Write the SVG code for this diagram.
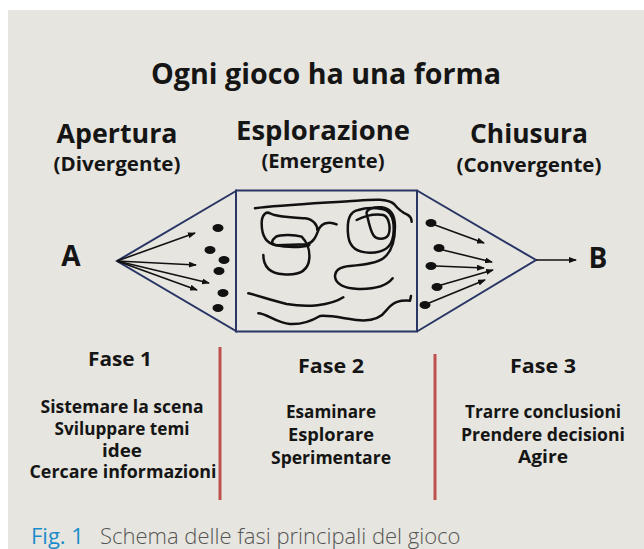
<svg xmlns="http://www.w3.org/2000/svg" width="644" height="549" viewBox="0 0 644 549">
  <defs>
    <marker id="ah" markerWidth="8" markerHeight="6" refX="7" refY="3" orient="auto" markerUnits="userSpaceOnUse">
      <path d="M0,0 L8,3 L0,6 Z" fill="#111"/>
    </marker>
    <style>
      .t { font-family: "Open Sans", "DejaVu Sans", "Liberation Sans", sans-serif; font-weight: 700; fill: #151515; }
      .h { font-size: 27px; }
      .s { font-size: 19px; }
      .p { font-size: 20px; }
      .l { font-size: 17px; }
      .shape { fill: none; stroke: #283565; stroke-width: 2; stroke-linejoin: miter; }
      .arr { stroke: #111; stroke-width: 1.6; fill: none; marker-end: url(#ah); }
      .dot { fill: #111; }
      .scr { fill: none; stroke: #111; stroke-width: 7.5; stroke-linecap: round; stroke-linejoin: round; }
      .red { stroke: #c0504d; stroke-width: 3; }
      .cap { font-family: "Open Sans", "Liberation Sans", sans-serif; font-size: 22px; font-weight: 300; }
    </style>
  </defs>
  <rect x="8" y="10" width="636" height="539" fill="#e6e5df"/>

  <g id="title">
    <text class="t" x="326" y="84" font-size="28" font-weight="600" text-anchor="middle" textLength="350" lengthAdjust="spacingAndGlyphs">Ogni gioco ha una forma</text>
  </g>

  <g id="apertura">
    <text class="t h" x="117" y="143" text-anchor="middle" textLength="121" lengthAdjust="spacingAndGlyphs">Apertura</text>
    <text class="t s" x="117" y="171" text-anchor="middle" textLength="127" lengthAdjust="spacingAndGlyphs">(Divergente)</text>
  </g>
  <g id="esplorazione">
    <text class="t h" x="323" y="140" text-anchor="middle" textLength="174" lengthAdjust="spacingAndGlyphs">Esplorazione</text>
    <text class="t s" x="323" y="168" text-anchor="middle" textLength="123" lengthAdjust="spacingAndGlyphs">(Emergente)</text>
  </g>
  <g id="chiusura">
    <text class="t h" x="529" y="143" text-anchor="middle" textLength="118" lengthAdjust="spacingAndGlyphs">Chiusura</text>
    <text class="t s" x="529" y="172" text-anchor="middle" textLength="145" lengthAdjust="spacingAndGlyphs">(Convergente)</text>
  </g>

  <g id="nodeA">
    <text class="t" x="71" y="266" font-size="28" font-weight="800" text-anchor="middle">A</text>
  </g>
  <g id="nodeB">
    <text class="t" x="598" y="268" font-size="28" font-weight="800" text-anchor="middle">B</text>
  </g>

  <g id="shape">
    <path class="shape" d="M236,191 L117,261 L236,331 Z"/>
    <rect class="shape" x="236" y="190.5" width="181" height="141"/>
    <path class="shape" d="M417,190.5 L536,260 L417,331.5"/>
  </g>

  <g id="divergent-dots">
    <ellipse class="dot" cx="218" cy="228" rx="5.5" ry="4"/>
    <ellipse class="dot" cx="210" cy="250" rx="5.5" ry="4"/>
    <ellipse class="dot" cx="224" cy="260" rx="5.5" ry="4"/>
    <ellipse class="dot" cx="219" cy="271" rx="5.5" ry="4"/>
    <ellipse class="dot" cx="223" cy="293" rx="5.5" ry="4"/>
    <ellipse class="dot" cx="218" cy="308" rx="5.5" ry="4"/>
  </g>
  <g id="convergent-dots">
    <ellipse class="dot" cx="431" cy="223" rx="5.5" ry="4"/>
    <ellipse class="dot" cx="439" cy="248" rx="5.5" ry="4"/>
    <ellipse class="dot" cx="431" cy="266" rx="5.5" ry="4"/>
    <ellipse class="dot" cx="437" cy="287" rx="5.5" ry="4"/>
    <ellipse class="dot" cx="425" cy="305" rx="5.5" ry="4"/>
  </g>

  <g id="scribbles" transform="translate(230,180) scale(0.3333)">
    <path class="scr" d="M75,85 C150,75 300,68 380,62 C430,58 475,55 492,72 C505,88 518,98 532,104 C542,110 545,118 545,125"/>
    <path class="scr" d="M320,133 C295,122 275,130 266,148 C258,170 250,188 230,193 L140,196 C110,192 95,170 95,130 C95,105 108,93 120,100 C135,110 175,112 225,115 C250,118 262,135 262,150"/>
    <path class="scr" d="M100,225 C100,262 120,280 160,283 C210,287 235,272 238,235 C240,205 232,188 215,170 C190,162 150,164 138,170 C125,180 122,190 135,195 C170,203 215,203 238,195"/>
    <path class="scr" d="M385,90 C355,95 350,130 355,170 C360,205 385,218 420,218 C460,218 485,205 490,165 C495,120 485,95 460,88 C430,82 400,85 385,90 Z"/>
    <path class="scr" d="M380,120 C400,110 430,100 460,105 C480,112 482,150 475,165 C465,180 440,180 430,165 C420,150 415,120 410,100 C408,88 430,80 455,82 C480,85 495,105 495,140 C495,180 485,215 460,235 C440,250 400,255 360,258 C330,260 315,270 315,290 C318,315 345,325 385,327 C430,328 470,318 488,295"/>
    <path class="scr" d="M55,340 C80,345 120,360 170,372 C230,382 300,378 340,352"/>
    <path class="scr" d="M85,400 C110,400 140,430 180,432 C220,434 250,420 270,408 C300,405 340,415 380,420 C420,425 450,418 470,390 C490,365 510,360 540,362 L543,348"/>
  </g>

  <g id="connectors">
    <line class="arr" x1="117" y1="261" x2="195" y2="233"/>
    <line class="arr" x1="117" y1="261" x2="196" y2="265"/>
    <line class="arr" x1="117" y1="261" x2="209" y2="283"/>
    <line class="arr" x1="117" y1="261" x2="197" y2="290"/>
    <line class="arr" x1="435" y1="225" x2="484" y2="243"/>
    <line class="arr" x1="443" y1="250" x2="492" y2="262"/>
    <line class="arr" x1="436" y1="266" x2="484" y2="268"/>
    <line class="arr" x1="441" y1="285" x2="493" y2="270"/>
    <line class="arr" x1="429" y1="303" x2="485" y2="280"/>
    <line class="arr" x1="536" y1="260" x2="576" y2="260"/>
  </g>

  <g id="dividers">
    <line class="red" x1="220" y1="347" x2="220" y2="500"/>
    <line class="red" x1="435" y1="354" x2="435" y2="500"/>
  </g>

  <g id="fase1">
    <text class="t p" x="120" y="366" text-anchor="middle" textLength="64" lengthAdjust="spacingAndGlyphs">Fase 1</text>
    <text class="t l" x="122" y="413" text-anchor="middle" textLength="163" lengthAdjust="spacingAndGlyphs">Sistemare la scena</text>
    <text class="t l" x="122" y="435" text-anchor="middle" textLength="135" lengthAdjust="spacingAndGlyphs">Sviluppare temi</text>
    <text class="t l" x="122" y="457" text-anchor="middle" textLength="40" lengthAdjust="spacingAndGlyphs">idee</text>
    <text class="t l" x="123" y="478" text-anchor="middle" textLength="187" lengthAdjust="spacingAndGlyphs">Cercare informazioni</text>
  </g>
  <g id="fase2">
    <text class="t p" x="331" y="373" text-anchor="middle" textLength="66" lengthAdjust="spacingAndGlyphs">Fase 2</text>
    <text class="t l" x="331" y="418" text-anchor="middle" textLength="90" lengthAdjust="spacingAndGlyphs">Esaminare</text>
    <text class="t l" x="331" y="441" text-anchor="middle" textLength="86" lengthAdjust="spacingAndGlyphs">Esplorare</text>
    <text class="t l" x="331" y="464" text-anchor="middle" textLength="120" lengthAdjust="spacingAndGlyphs">Sperimentare</text>
  </g>
  <g id="fase3">
    <text class="t p" x="543" y="373" text-anchor="middle" textLength="66" lengthAdjust="spacingAndGlyphs">Fase 3</text>
    <text class="t l" x="543" y="418" text-anchor="middle" textLength="156" lengthAdjust="spacingAndGlyphs">Trarre conclusioni</text>
    <text class="t l" x="543" y="441" text-anchor="middle" textLength="164" lengthAdjust="spacingAndGlyphs">Prendere decisioni</text>
    <text class="t l" x="543" y="463" text-anchor="middle" textLength="50" lengthAdjust="spacingAndGlyphs">Agire</text>
  </g>

  <g id="caption">
    <text class="cap" x="31" y="544"><tspan fill="#1a8ccc" font-weight="400">Fig. 1</tspan><tspan fill="#555" x="100">Schema delle fasi principali del gioco</tspan></text>
  </g>
</svg>
